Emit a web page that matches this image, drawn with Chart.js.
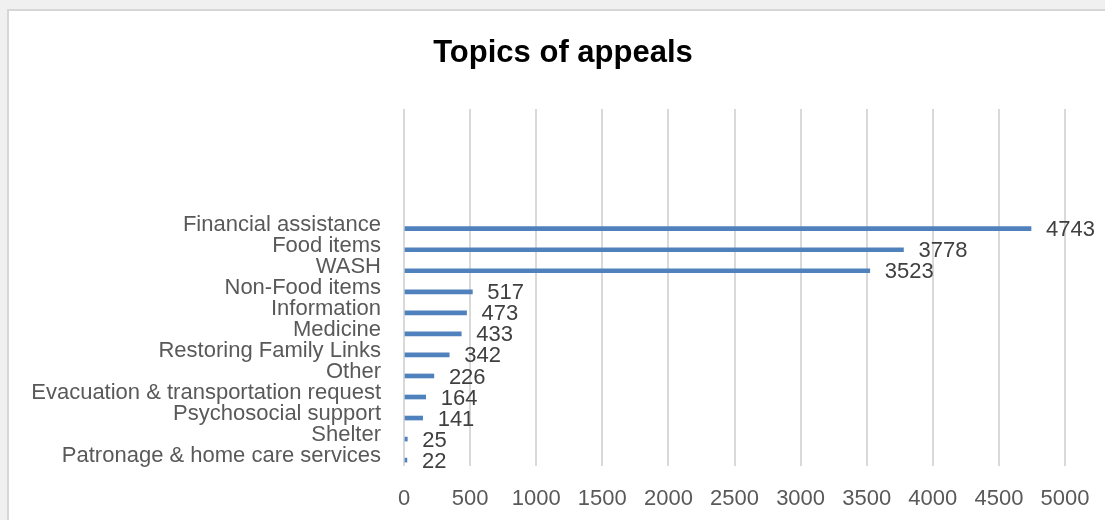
<!DOCTYPE html>
<html>
<head>
<meta charset="utf-8">
<script src="https://cdn.jsdelivr.net/npm/chart.js@4"></script>
<style>
  html, body { margin: 0; padding: 0; background: #f0f0f0; overflow: hidden; }
  #panel {
    position: absolute; left: 7px; top: 9px; right: -5px; bottom: -5px;
    background: #fff;
    border-left: 2px solid #d6d6d6;
    border-top: 2px solid #d6d6d6;
  }
  #chart { position: absolute; left: 0; top: 0; }
</style>
</head>
<body>
<div id="panel"></div>
<canvas id="chart" width="1105" height="520"></canvas>
<script>
const title = "Topics of appeals";
const categories = [
  "Financial assistance",
  "Food items",
  "WASH",
  "Non-Food items",
  "Information",
  "Medicine",
  "Restoring Family Links",
  "Other",
  "Evacuation & transportation request",
  "Psychosocial support",
  "Shelter",
  "Patronage & home care services"
];
const appeals = [4743, 3778, 3523, 517, 473, 433, 342, 226, 164, 141, 25, 22];
const xTicks = [0, 500, 1000, 1500, 2000, 2500, 3000, 3500, 4000, 4500, 5000];

const FONT = "'Liberation Sans', Arial, sans-serif";

// numbers printed just past the end of each bar
const valueLabels = {
  id: "valueLabels",
  afterDatasetsDraw(chart) {
    const ctx = chart.ctx;
    const meta = chart.getDatasetMeta(0);
    ctx.save();
    ctx.font = "22px " + FONT;
    ctx.fillStyle = "#404040";
    ctx.textAlign = "left";
    ctx.textBaseline = "middle";
    meta.data.forEach((bar, i) => {
      ctx.fillText(String(appeals[i]), bar.x + 15, bar.y + 1.5);
    });
    ctx.restore();
  }
};

// heading sits over the middle of the whole panel, not the plot
const heading = {
  id: "heading",
  afterDraw(chart) {
    const ctx = chart.ctx;
    ctx.save();
    ctx.font = "bold 31px " + FONT;
    ctx.fillStyle = "#000";
    ctx.textAlign = "center";
    ctx.textBaseline = "middle";
    ctx.fillText(title, 563, 53);
    ctx.restore();
  }
};

const ctx = document.getElementById("chart");
let chart = new Chart(ctx, {
  type: "bar",
  data: {
    datasets: [{
      data: appeals.map((v, i) => ({ x: v, y: i })),
      backgroundColor: "#4f81bd",
      barThickness: 4
    }]
  },
  options: {
    indexAxis: "y",
    responsive: false,
    animation: false,
    layout: { padding: { left: 0, right: 40, top: 109, bottom: 0 } },
    plugins: {
      legend: { display: false },
      tooltip: { enabled: false },
      title: { display: false }
    },
    scales: {
      x: {
        type: "linear",
        min: 0,
        max: 5000,
        afterBuildTicks: s => { s.ticks = xTicks.map(v => ({ value: v })); },
        afterFit: s => { s.height = 54; s.paddingLeft = 0; s.paddingRight = 0; },
        grid: { color: "#d9d9d9", lineWidth: 2, drawTicks: false },
        border: { display: false },
        ticks: {
          color: "#595959",
          font: { family: FONT, size: 22 },
          padding: 20,
          maxRotation: 0,
          callback: v => String(v)
        }
      },
      y: {
        type: "linear",
        reverse: true,
        offset: false,
        min: -5.69,
        max: 11.28,
        afterBuildTicks: s => { s.ticks = categories.map((c, i) => ({ value: i })); },
        afterFit: s => { s.width = 404; s.paddingTop = 0; s.paddingBottom = 0; },
        grid: { display: false, drawTicks: false, offset: false },
        border: { display: false },
        ticks: {
          color: "#595959",
          font: { family: FONT, size: 22 },
          padding: 23,
          labelOffset: -4,
          autoSkip: false,
          callback: v => categories[v]
        }
      }
    }
  },
  plugins: [valueLabels, heading]
});
</script>
</body>
</html>
